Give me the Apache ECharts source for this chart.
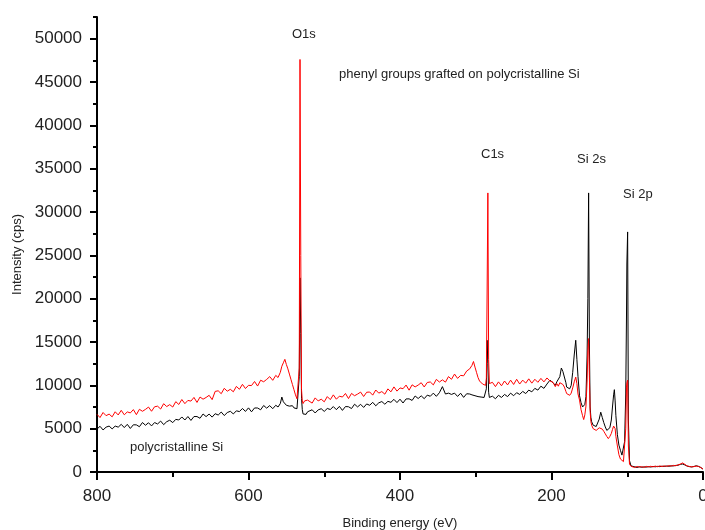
<!DOCTYPE html>
<html>
<head>
<meta charset="utf-8">
<script src="https://cdn.jsdelivr.net/npm/echarts@6/dist/echarts.min.js"></script>
<style>
html,body{margin:0;padding:0;background:#fff;}
#chart{width:705px;height:530px;}
</style>
</head>
<body>
<div id="chart"></div>
<script>
// Binding energies (eV), shared by both spectra
var energy = [
800,796,792,788,784,780,776,772,768,764,760,756,752,748,744,740,736,732,728,724,720,716,712,708,704,700,696,692,688,684,680,676,672,668,664,660,656,652,648,644,640,636,632,628,624,620,616,612,608,604,600,596,592,588,584,580,576,572,568,564,
561,558,556,554,552,550,548,546,544,542,540,538,536,534,533,532,531,530,529,528,526,524,522,
520,516,512,508,504,500,496,492,488,484,480,476,472,468,464,460,456,452,448,444,440,436,432,428,424,420,416,412,408,404,400,396,392,388,384,380,376,372,368,364,360,356,352,348,344,340,336,332,328,324,320,316,312,308,
305,303,301,299,297,295,293,291,289,287,286,285,284,283,282,280,
278,274,270,266,262,258,254,250,246,242,238,234,230,226,222,218,214,210,206,202,198,
195,193,191,189,187,185,183,181,180,178,176,174,172,170,168,166.5,165,163,161,159,157.5,156,154.5,153,152,151,150,149,148,147,145,143,141,139,137,135,133,131,129,127,125,123,121,119.5,118,117,116,115,113,111,109,107,105,103.5,102,101,100.5,99.5,98.5,97,95,
93,90,87,84,81,78,75,72,69,66,63,60,57,54,51,48,45,42,39,36,33,30,27,24,21,18,15,12,9,6,3,0
];
// polycristalline Si (black)
var polySi = [
4950,5275,4850,5175,5300,4975,5300,5175,5500,5125,5500,5025,5450,5436,5223,5709,5395,5682,5318,5705,5541,5877,5464,5800,5975,5700,6075,6000,6350,6000,6400,5950,6400,6400,6200,6695,6391,6686,6332,6727,6573,6918,6514,6859,7005,6700,7060,6970,7330,6990,7400,6944,7389,7383,7178,7672,7367,7661,7306,7700,
7500,7900,8650,8100,7900,7700,7800,7600,7500,7650,7400,7550,7300,7500,11000,22400,16000,8500,7200,6700,6900,6650,6950,
6800,7180,6810,7170,7300,6990,7330,7210,7550,7190,7570,7110,7550,7530,7320,7820,7510,7810,7450,7850,7700,8040,7640,7980,8130,7820,8150,8040,8380,8010,8400,7960,8430,8440,8260,8770,8480,8790,8460,8870,8740,9100,8730,9150,9850,9000,9100,8950,9100,8720,9090,8610,9030,9000,
8900,9050,8800,8950,8700,8850,8650,8800,8600,8750,9600,15200,12500,9200,8600,8450,
8750,8450,8850,8600,8950,8700,9100,8800,9150,8950,9300,9050,9450,9250,9650,9450,9900,9650,10150,10600,10300,
10000,10400,10200,11000,12000,11600,11500,10300,9800,9900,9600,10000,11500,13500,15200,13000,11000,8800,8000,7500,7300,7800,8700,13500,20000,32200,15000,7500,6300,5800,5400,5200,5250,5450,6100,6900,6300,5700,5200,4800,4700,5100,6000,7500,8900,9500,8200,6500,4300,3100,2500,1950,2100,3500,9000,18000,24000,27700,6000,1300,700,
550,600,520,610,540,590,560,620,570,640,600,650,620,670,640,690,660,710,700,760,780,880,920,820,680,620,580,640,720,650,520,330
];
// phenyl groups grafted on polycristalline Si (red)
var phenylSi = [
6650,6283,6867,6500,6683,6367,6950,6583,7117,6600,6933,6817,7200,6618,7236,7005,7223,7491,7009,7527,7595,7264,7882,7550,7773,7495,8118,7791,8364,7886,8259,8182,8605,8027,8650,8400,8600,8850,8350,9300,9368,9036,9655,9323,9541,9259,9877,9545,10114,9632,10000,9972,10444,9917,10589,10411,10683,11006,10578,11150,
10900,11500,12200,12600,13000,12400,11900,11300,10700,10100,9500,8900,8450,8600,12000,47600,25000,9500,8200,7900,8200,8000,8300,
8300,7950,8550,8200,8400,8100,8700,8350,8900,8400,8750,8650,9060,8470,9070,8800,8990,9220,8710,9200,9230,8870,9460,9100,9280,8980,9590,9250,9820,9330,9700,9610,10030,9440,10060,9820,10030,10300,9810,10330,10390,10050,10690,10380,10630,10370,11010,10700,11300,10800,11150,11100,11650,11900,
12300,12750,12100,11500,10900,10500,10300,10150,10200,10000,10800,21000,32200,13000,10200,10000,
10350,9850,10400,9950,10500,10050,10600,10100,10700,10150,10600,10250,10750,10250,10700,10350,10800,10400,10850,10500,10350,
9850,10200,9900,10300,10400,10100,9800,9300,9050,9200,8850,9100,9700,10400,10950,10200,9000,8300,7200,6500,6050,6600,7600,10500,14000,15400,11000,7000,5800,5400,5000,4850,4800,4950,5100,5200,4950,4700,4400,4100,3850,4100,4450,4900,5300,5400,5000,4100,3000,2000,1500,1300,1200,1300,5000,9800,10300,10600,3000,900,650,
600,520,640,560,620,530,650,580,660,590,680,610,700,630,710,650,730,680,760,720,820,900,1050,880,700,640,600,620,680,640,520,350
];
// tick values of the intensity axis
var majorTicksY = [0,5000,10000,15000,20000,25000,30000,35000,40000,45000,50000];
var minorTicksY = [2500,7500,12500,17500,22500,27500,32500,37500,42500,47500,52500];

function pairs(xs, ys){ var out=[]; for(var i=0;i<xs.length;i++){ out.push([xs[i], ys[i]]); } return out; }

var chart = echarts.init(document.getElementById('chart'), null, {renderer:'canvas'});
var FONT = 'Liberation Sans, Arial, sans-serif';
var txt = function(x, y, s){ return {type:'text', left:x, top:y, style:{text:s, fill:'#222', font:'13px ' + FONT}}; };
var gridBox = {left:97, right:2, top:17, bottom:58, containLabel:false, outerBoundsMode:'none'};
chart.setOption({
  animation:false,
  backgroundColor:'#ffffff',
  grid:[gridBox, Object.assign({}, gridBox)],
  xAxis:[{
    type:'value', gridIndex:0, min:0, max:800, interval:200, inverse:true,
    name:'Binding energy (eV)', nameLocation:'middle', nameGap:45,
    nameTextStyle:{fontFamily:FONT, fontSize:13, color:'#222'},
    axisLine:{show:true, onZero:false, lineStyle:{color:'#000', width:2}},
    axisTick:{show:true, length:8, lineStyle:{color:'#000', width:2}},
    minorTick:{show:true, splitNumber:2, length:5, lineStyle:{color:'#000', width:2}},
    axisLabel:{fontFamily:FONT, fontSize:17, color:'#222', margin:16},
    splitLine:{show:false}
  },{
    type:'value', gridIndex:1, min:0, max:800, inverse:true, show:false
  }],
  yAxis:[{
    type:'value', gridIndex:0, min:0, max:52500,
    name:'Intensity (cps)', nameLocation:'middle', nameGap:67,
    nameTextStyle:{fontFamily:FONT, fontSize:13, color:'#222', padding:[0,20,0,0]},
    axisLine:{show:true, onZero:false, lineStyle:{color:'#000', width:2}},
    axisTick:{show:true, length:7, customValues:majorTicksY, lineStyle:{color:'#000', width:2}},
    axisLabel:{fontFamily:FONT, fontSize:17, color:'#222', margin:15, customValues:majorTicksY,
      formatter:function(v){ return String(v); }},
    splitLine:{show:false}
  },{
    type:'value', gridIndex:1, min:0, max:52500, position:'left',
    axisLine:{show:false, onZero:false},
    axisTick:{show:true, length:4, customValues:minorTicksY, lineStyle:{color:'#000', width:2}},
    axisLabel:{show:false},
    splitLine:{show:false}
  }],
  series:[
    {name:'polycristalline Si', type:'line', xAxisIndex:0, yAxisIndex:0, data:pairs(energy, polySi), showSymbol:false, symbol:'none',
     lineStyle:{color:'#000000', width:1}, itemStyle:{color:'#000'}, sampling:null, clip:true},
    {name:'phenyl groups grafted on polycristalline Si', type:'line', xAxisIndex:0, yAxisIndex:0, data:pairs(energy, phenylSi), showSymbol:false, symbol:'none',
     lineStyle:{color:'#ff0000', width:1}, itemStyle:{color:'#f00'}, sampling:null, clip:true}
  ],
  graphic:[
    txt(292, 28, 'O1s'),
    txt(339, 68, 'phenyl groups grafted on polycristalline Si'),
    txt(481, 148, 'C1s'),
    txt(577, 153, 'Si 2s'),
    txt(623, 188, 'Si 2p'),
    txt(130, 441, 'polycristalline Si')
  ]
});
</script>
</body>
</html>
